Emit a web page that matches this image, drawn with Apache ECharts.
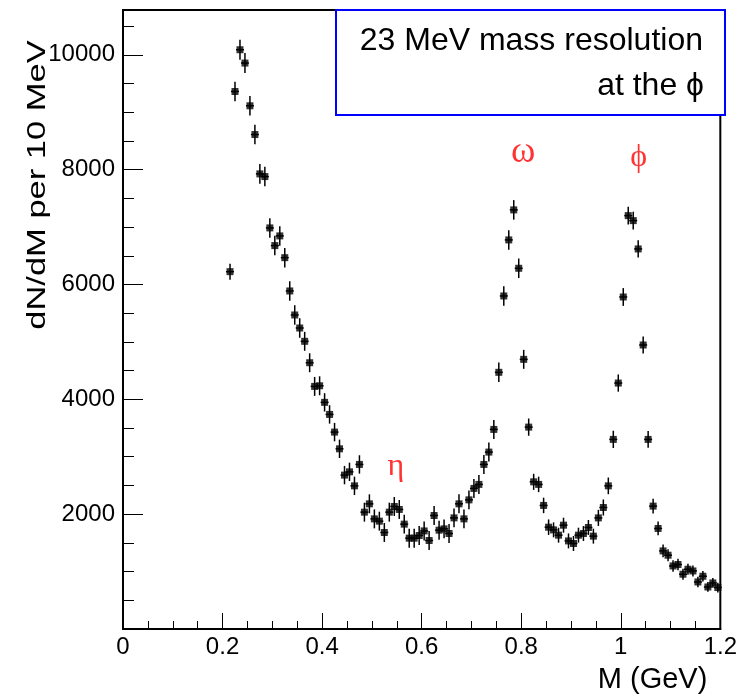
<!DOCTYPE html>
<html>
<head>
<meta charset="utf-8">
<script src="https://cdn.jsdelivr.net/npm/echarts@6/dist/echarts.min.js"></script>
<style>
html,body{margin:0;padding:0;background:#fff;}
#chart{width:740px;height:695px;}
</style>
</head>
<body>
<div id="chart"></div>
<script>
// Bin centres (GeV)
var mass = [0.215,0.225,0.235,0.245,0.255,0.265,0.275,0.285,0.295,0.305,
0.315,0.325,0.335,0.345,0.355,0.365,0.375,0.385,0.395,0.405,
0.415,0.425,0.435,0.445,0.455,0.465,0.475,0.485,0.495,0.505,
0.515,0.525,0.535,0.545,0.555,0.565,0.575,0.585,0.595,0.605,
0.615,0.625,0.635,0.645,0.655,0.665,0.675,0.685,0.695,0.705,
0.715,0.725,0.735,0.745,0.755,0.765,0.775,0.785,0.795,0.805,
0.815,0.825,0.835,0.845,0.855,0.865,0.875,0.885,0.895,0.905,
0.915,0.925,0.935,0.945,0.955,0.965,0.975,0.985,0.995,1.005,
1.015,1.025,1.035,1.045,1.055,1.065,1.075,1.085,1.095,1.105,
1.115,1.125,1.135,1.145,1.155,1.165,1.175,1.185,1.195];
// dN/dM per 10 MeV
var counts = [6223,9361,10088,9856,9112,8611,7926,7879,6985,6677,
6846,6467,5887,5469,5242,5010,4637,4225,4236,3947,
3737,3429,3138,2680,2737,2493,2866,2035,2180,1918,
1878,1681,2035,2134,2082,1826,1582,1582,1628,1708,
1541,1977,1721,1744,1663,1935,2180,1918,2249,2448,
2518,2866,3081,3476,4470,5800,6776,7299,6282,4696,
3516,2563,2518,2152,1773,1726,1634,1808,1534,1489,
1634,1663,1768,1617,1935,2116,2493,3302,4283,5782,
7199,7112,6619,4946,3302,2140,1751,1360,1285,1098,
1123,954,1041,1011,819,919,732,802,722];
// half-length of vertical error bars
var errors = [140,170,175,175,170,170,170,170,170,170,
170,170,170,170,170,165,165,165,165,160,
160,160,160,160,160,160,160,165,165,165,
165,165,165,165,165,165,165,165,165,165,
165,165,165,165,165,165,165,165,165,165,
165,165,165,165,170,170,170,170,170,165,
150,140,135,135,135,130,130,130,130,130,
130,130,130,130,140,140,145,150,150,155,
155,155,150,150,145,130,120,110,105,100,
100,95,95,95,90,90,85,85,85];
var xTicks = {min:0, max:1.2, step:0.2};
var yTicks = {min:0, max:10780, step:2000, minorStep:500};
var peakNames = ['\u03B7', '\u03C9', '\u03D5'];
var peakX = [0.548, 0.804, 1.036];
var peakY = [2835, 8310, 8203];

var pts = mass.map(function(m,i){return [m, counts[i], errors[i]];});

var chart = echarts.init(document.getElementById('chart'), null, {renderer:'canvas'});
var font = 'Liberation Sans, Arial, Helvetica, sans-serif';
var peakFontSize = [32, 37, 32];
var option = {
  backgroundColor:'#fff',
  animation:false,
  grid:{left:123, right:15, top:10, bottom:66, show:true, borderColor:'#000', borderWidth:2, backgroundColor:'transparent'},
  xAxis:{
    type:'value', min:xTicks.min, max:xTicks.max, interval:xTicks.step,
    axisLine:{show:true, onZero:false, lineStyle:{color:'#000', width:2}},
    axisTick:{show:true, inside:true, length:16, lineStyle:{color:'#000', width:1}},
    minorTick:{show:true, splitNumber:4, length:8, lineStyle:{color:'#000', width:1}},
    splitLine:{show:false},
    axisLabel:{color:'#000', fontFamily:font, fontSize:24, margin:6,
      formatter:function(v){return String(Math.round(v*10)/10);}},
    name:'M (GeV)', nameLocation:'end', nameGap:0,
    nameTextStyle:{color:'#000', fontFamily:font, fontSize:29, align:'right', verticalAlign:'top', padding:[36,13,0,0]}
  },
  yAxis:[{
    type:'value', min:yTicks.min, max:yTicks.max, interval:yTicks.step,
    axisLine:{show:true, onZero:false, lineStyle:{color:'#000', width:2}},
    axisTick:{show:true, inside:true, length:20, lineStyle:{color:'#000', width:1}},
    splitLine:{show:false},
    axisLabel:{color:'#000', fontFamily:font, fontSize:24, margin:8, showMaxLabel:false,
      formatter:function(v){return (v>0 && v%2000===0)?String(v):'';}}
  },{
    type:'value', min:yTicks.min, max:yTicks.max, interval:yTicks.minorStep, position:'left',
    axisLine:{show:false},
    axisTick:{show:true, inside:true, length:11, lineStyle:{color:'#000', width:1}},
    splitLine:{show:false},
    axisLabel:{show:false}
  }],
  series:[{
    type:'custom',
    data:pts,
    z:3,
    renderItem:function(params, api){
      var x = api.value(0), y = api.value(1), e = api.value(2);
      var top = api.coord([x, y+e]);
      var bot = api.coord([x, y-e]);
      var l = api.coord([x-0.005, y]);
      var r = api.coord([x+0.005, y]);
      return {type:'group', children:[
        {type:'line', shape:{x1:top[0], y1:top[1], x2:bot[0], y2:bot[1]}, style:{stroke:'#000', lineWidth:1.5}},
        {type:'line', shape:{x1:l[0]-1.5, y1:l[1], x2:r[0]+1.5, y2:r[1]}, style:{stroke:'#000', lineWidth:1.5}}
      ]};
    }
  },{
    type:'scatter',
    data:pts.map(function(p){return [p[0],p[1]];}),
    symbol:'rect', symbolSize:7,
    itemStyle:{color:'#000'},
    z:4
  },{
    type:'scatter',
    data:peakNames.map(function(t,i){
      return {value:[peakX[i], peakY[i]], label:{fontSize:peakFontSize[i]}};
    }),
    symbolSize:0,
    silent:true,
    label:{show:true, position:'inside', color:'#ff0000', fontFamily:'Liberation Serif, DejaVu Serif, serif',
      formatter:function(p){return peakNames[p.dataIndex];}},
    z:5
  }],
  graphic:[
    {type:'text', x:38, y:185, rotation:Math.PI/2, scaleX:1.38, scaleY:1, z:10,
     style:{text:'dN/dM per 10 MeV', fill:'#000', font:'25px Liberation Sans, Arial, sans-serif', align:'center', verticalAlign:'middle'}},
    {type:'rect', x:336, y:10, shape:{width:389, height:105}, z:20,
     style:{fill:'#fff', stroke:'#0000ff', lineWidth:2}},
    {type:'text', x:703, y:41, z:21,
     style:{text:'23 MeV mass resolution', fill:'#000', font:'32px Liberation Sans, Arial, sans-serif', align:'right', verticalAlign:'middle'}},
    {type:'text', x:704, y:86, z:21,
     style:{text:'at the \u03D5', fill:'#000', font:'32px Liberation Sans, Arial, sans-serif', align:'right', verticalAlign:'middle'}}
  ]
};
chart.setOption(option);
</script>
</body>
</html>
